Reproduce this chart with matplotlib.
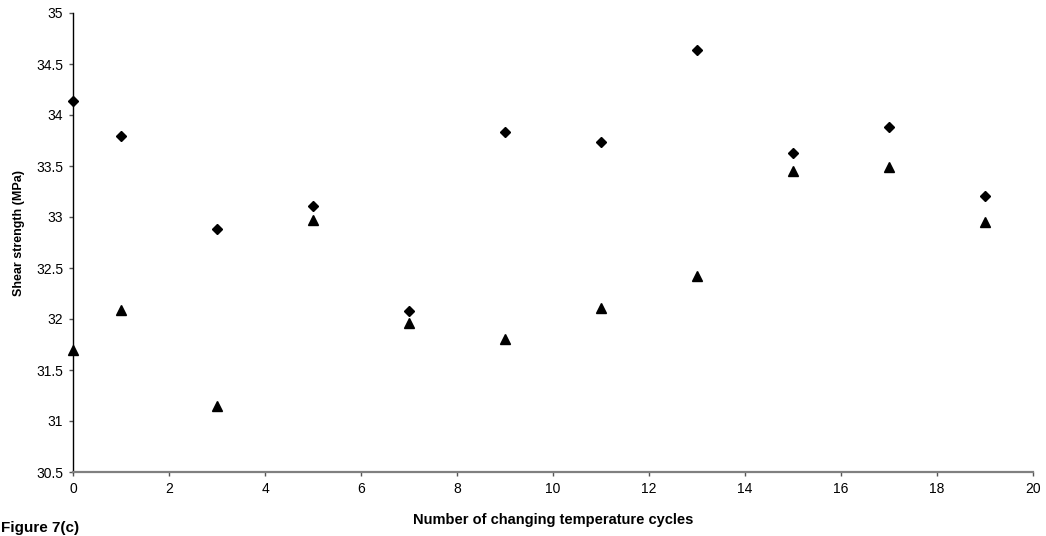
import numpy as np
import matplotlib.pyplot as plt
from matplotlib.ticker import FuncFormatter

plt.rcParams['font.family'] = ['Liberation Sans', 'DejaVu Sans']

cycles = [0, 1, 3, 5, 7, 9, 11, 13, 15, 17, 19]
strength_a = [34.14, 33.79, 32.88, 33.11, 32.08, 33.83, 33.74, 34.64, 33.63, 33.88, 33.21]
strength_b = [31.70, 32.09, 31.15, 32.97, 31.96, 31.80, 32.11, 32.42, 33.45, 33.49, 32.95]

W, H = 1046, 536
fig = plt.figure(figsize=(W / 100, H / 100), dpi=100)
ax = fig.add_axes([73 / W, 1 - 472 / H, (1033 - 73) / W, (472 - 13) / H])

ax.plot(cycles, strength_a, linestyle='none', marker='D', markersize=5,
        color='black', clip_on=False)
ax.plot(cycles, strength_b, linestyle='none', marker='^', markersize=6.5,
        color='black', clip_on=False)

ax.set_xlim(0, 20)
ax.set_ylim(30.5, 35)
ax.set_xticks(np.arange(0, 21, 2))
ax.set_yticks(np.arange(30.5, 35.01, 0.5))
ax.yaxis.set_major_formatter(FuncFormatter(lambda v, p: f'{v:g}'))

for s in ['top', 'right']:
    ax.spines[s].set_visible(False)
ax.spines['left'].set_color('black')
ax.spines['left'].set_linewidth(1.0)
ax.spines['bottom'].set_color('#808080')
ax.spines['bottom'].set_linewidth(1.6)
ax.tick_params(direction='out', length=3, width=1, color='#555555',
               labelsize=10, pad=4)

fig.text(19 / W, 1 - 233 / H, 'Shear strength (MPa)', fontsize=9,
         fontweight='bold', rotation=90, ha='center', va='center')
fig.text(553 / W, 1 - 520 / H, 'Number of changing temperature cycles',
         fontsize=10.5, fontweight='bold', ha='center', va='center')
fig.text(1 / W, 1 - 528 / H, 'Figure 7(c)', fontsize=11, fontweight='bold',
         ha='left', va='center')

fig.savefig('out.png', dpi=100)
